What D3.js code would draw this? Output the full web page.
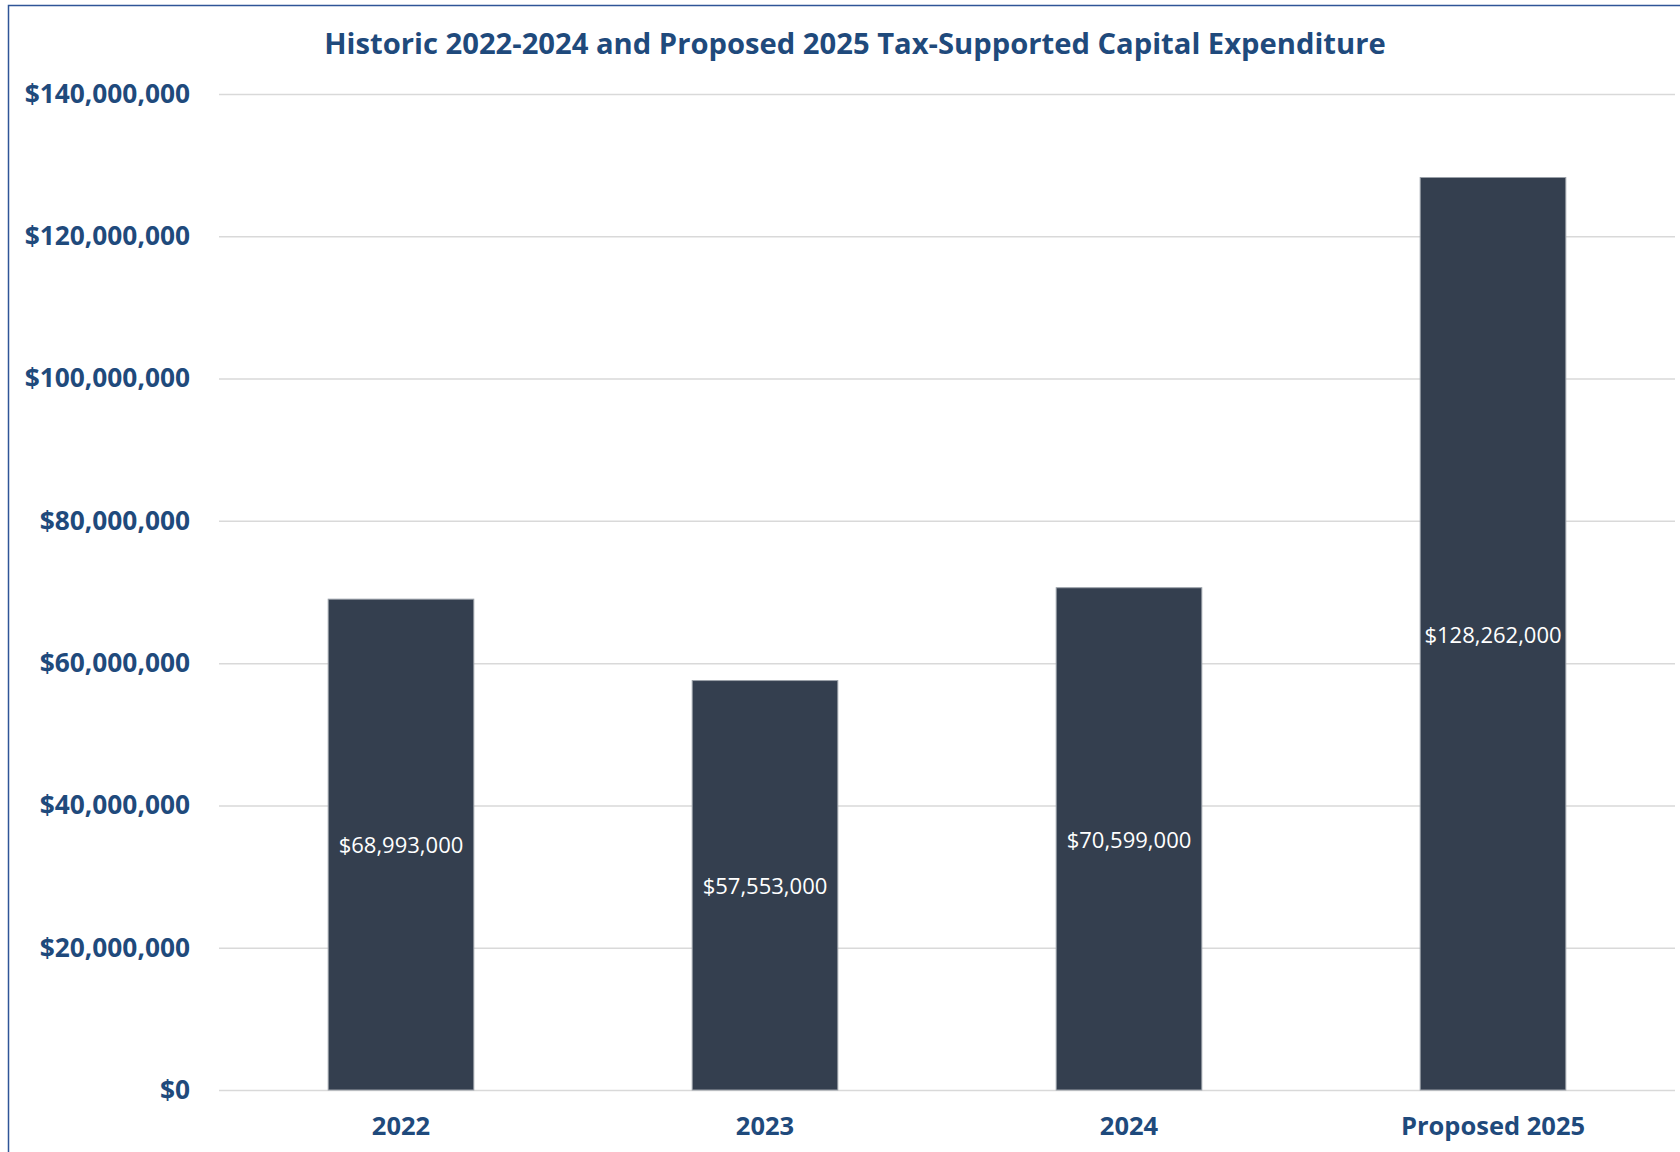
<!DOCTYPE html>
<html>
<head>
<meta charset="utf-8">
<script src="https://cdn.jsdelivr.net/npm/d3@7"></script>
<style>
  body { margin: 0; background: #fff; }
  svg text { font-family: "Open Sans", sans-serif; }
</style>
</head>
<body>
<div id="chart"></div>
<script>
// data
const years = ["2022", "2023", "2024", "Proposed 2025"];
const spending = [68993000, 57553000, 70599000, 128262000];
const yTicks = [0, 20000000, 40000000, 60000000, 80000000, 100000000, 120000000, 140000000];

const W = 1680, H = 1152;
const margin = {top: 94, right: 5, bottom: 62, left: 219};
const width = W - margin.left - margin.right,
      height = H - margin.top - margin.bottom;

const blue = "#1f4a7c";

const svg = d3.select("#chart")
  .append("svg")
    .attr("width", W)
    .attr("height", H);

// frame (left + top edge, rest is cut off)
svg.append("path")
  .attr("d", `M8.5,${H} V5.5 H${W}`)
  .attr("fill", "none")
  .attr("stroke", "#2f5597")
  .attr("stroke-width", 1.5);

// title
svg.append("text")
  .attr("x", 855)
  .attr("y", 54)
  .attr("text-anchor", "middle")
  .attr("font-size", 29.2)
  .attr("font-weight", 700)
  .attr("fill", blue)
  .text("Historic 2022-2024 and Proposed 2025 Tax-Supported Capital Expenditure");

const g = svg.append("g")
  .attr("transform", `translate(${margin.left},${margin.top})`);

// scales
const x = d3.scaleBand()
  .domain(years)
  .range([0, width])
  .paddingInner(0.6)
  .paddingOuter(0.3);

const y = d3.scaleLinear()
  .domain([0, 140000000])
  .range([height, 0]);

// y axis + gridlines
const yAxis = g.append("g")
  .call(d3.axisLeft(y)
    .tickValues(yTicks)
    .tickSize(-width)
    .tickPadding(29)
    .tickFormat(d3.format("$,")));
yAxis.select(".domain").remove();
yAxis.selectAll("line")
  .attr("stroke", "#d9d9d9")
  .attr("stroke-width", 1.5);
yAxis.selectAll("text")
  .attr("font-size", 26.3)
  .attr("font-weight", 700)
  .attr("fill", blue)
  .attr("font-family", "Open Sans, sans-serif");

// bars
g.append("g")
  .selectAll("rect")
  .data(spending)
  .join("rect")
    .attr("x", (d, i) => x(years[i]))
    .attr("y", d => y(d))
    .attr("width", x.bandwidth())
    .attr("height", d => height - y(d))
    .attr("fill", "#343f4f")
    .attr("stroke", "#9aa0a8")
    .attr("stroke-width", 1);

// value labels in the middle of each bar
g.append("g")
  .selectAll("text")
  .data(spending)
  .join("text")
    .attr("x", (d, i) => x(years[i]) + x.bandwidth() / 2)
    .attr("y", d => (y(d) + height) / 2)
    .attr("dy", "0.4em")
    .attr("text-anchor", "middle")
    .attr("font-size", 22)
    .attr("fill", "#fff")
    .text(d => d3.format("$,")(d));

// x axis labels
const xAxis = g.append("g")
  .attr("transform", `translate(0,${height})`)
  .call(d3.axisBottom(x).tickSize(0).tickPadding(27));
xAxis.select(".domain").remove();
xAxis.selectAll("text")
  .attr("font-size", 25.5)
  .attr("font-weight", 700)
  .attr("fill", blue)
  .attr("font-family", "Open Sans, sans-serif");
</script>
</body>
</html>
